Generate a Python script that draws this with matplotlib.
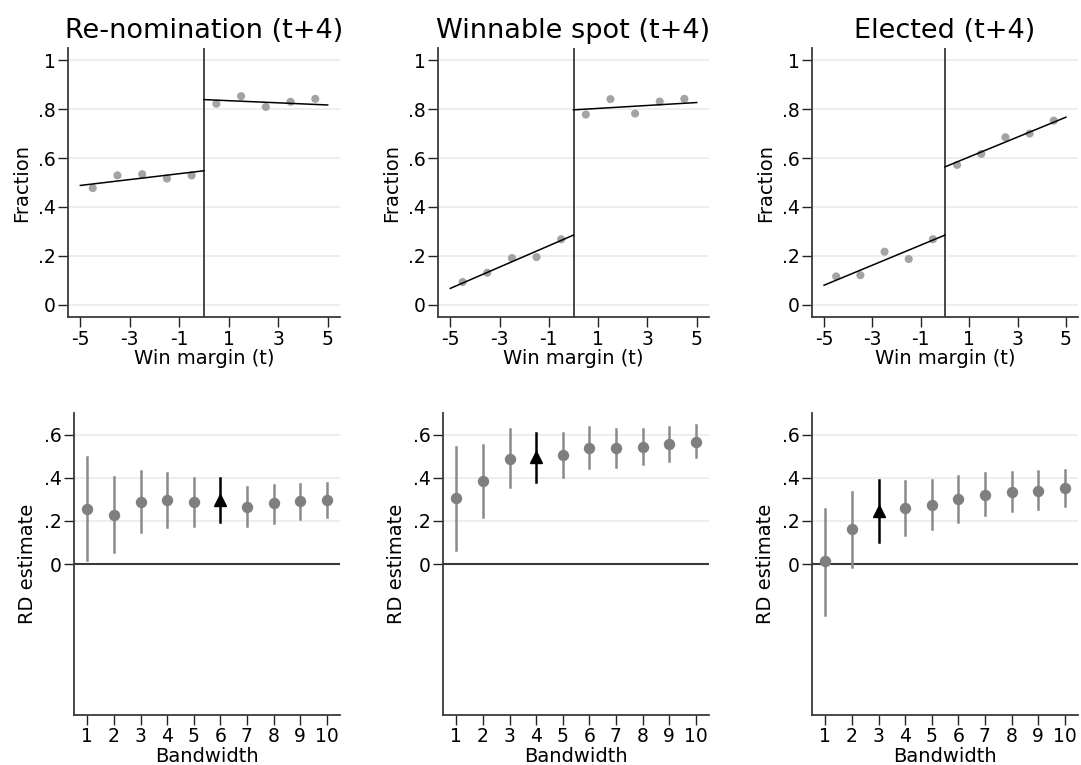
import matplotlib
matplotlib.use("Agg")
import matplotlib.pyplot as plt
import numpy as np

plt.rcParams["axes.unicode_minus"] = False

# --- data ---
titles = ["Re-nomination (t+4)", "Winnable spot (t+4)", "Elected (t+4)"]

bin_x = [-4.5, -3.5, -2.5, -1.5, -0.5, 0.5, 1.5, 2.5, 3.5, 4.5]
bin_means = [
    [0.477, 0.529, 0.534, 0.516, 0.529, 0.822, 0.853, 0.809, 0.830, 0.842],
    [0.093, 0.131, 0.191, 0.195, 0.268, 0.778, 0.841, 0.782, 0.831, 0.842],
    [0.116, 0.121, 0.217, 0.187, 0.268, 0.572, 0.617, 0.685, 0.700, 0.753],
]

fit_left_x = [-5, 0]
fit_right_x = [0, 5]
fit_left = [[0.488, 0.548], [0.067, 0.285], [0.080, 0.285]]
fit_right = [[0.839, 0.817], [0.797, 0.827], [0.564, 0.767]]

bandwidth = [1, 2, 3, 4, 5, 6, 7, 8, 9, 10]
rd_est = [
    [0.257, 0.229, 0.288, 0.296, 0.287, 0.297, 0.266, 0.281, 0.291, 0.297],
    [0.304, 0.384, 0.488, 0.495, 0.507, 0.540, 0.540, 0.544, 0.555, 0.567],
    [0.012, 0.160, 0.245, 0.260, 0.274, 0.302, 0.322, 0.335, 0.340, 0.352],
]
ci_hi = [
    [0.498, 0.405, 0.431, 0.420, 0.397, 0.400, 0.357, 0.366, 0.372, 0.377],
    [0.543, 0.552, 0.625, 0.606, 0.609, 0.637, 0.625, 0.625, 0.634, 0.643],
    [0.257, 0.336, 0.389, 0.384, 0.389, 0.406, 0.423, 0.428, 0.429, 0.437],
]
ci_lo = [
    [0.020, 0.054, 0.147, 0.172, 0.177, 0.194, 0.174, 0.191, 0.207, 0.216],
    [0.065, 0.219, 0.355, 0.378, 0.405, 0.445, 0.451, 0.464, 0.479, 0.495],
    [-0.236, -0.014, 0.102, 0.135, 0.164, 0.197, 0.229, 0.245, 0.254, 0.267],
]
optimal_bw = [6, 4, 3]  # highlighted with a triangle

W, H = 1081, 765
fig = plt.figure(figsize=(W / 100, H / 100), dpi=100)

top_x = [(68, 340), (438, 709), (812, 1078)]
bot_x = [(74, 340), (443, 709), (812, 1078)]


def px_axes(x0, x1, y0, y1):
    return fig.add_axes([x0 / W, 1 - y1 / H, (x1 - x0) / W, (y1 - y0) / H])


def style(ax):
    for s in ["top", "right"]:
        ax.spines[s].set_visible(False)
    for s in ["left", "bottom"]:
        ax.spines[s].set_color("#3a3a3a")
        ax.spines[s].set_linewidth(1.3)
    ax.tick_params(length=7, width=1, color="#222222", labelsize=13.5, pad=2)


for i in range(3):
    # ---- top row: binned scatter + linear fits ----
    ax = px_axes(top_x[i][0], top_x[i][1], 48, 317)
    style(ax)
    for yv in [0, 0.2, 0.4, 0.6, 0.8, 1.0]:
        ax.axhline(yv, color="#ebebeb", lw=1.2, zorder=0)
    ax.axvline(0, color="#3a3a3a", lw=1.3, zorder=2)
    ax.scatter(bin_x, bin_means[i], s=34, color="#a3a3a3", edgecolors="none", zorder=3)
    ax.plot(fit_left_x, fit_left[i], color="black", lw=1.1, zorder=4)
    ax.plot(fit_right_x, fit_right[i], color="black", lw=1.1, zorder=4)
    ax.set_xlim(-5.5, 5.5)
    ax.set_ylim(-0.05, 1.05)
    ax.set_xticks([-5, -3, -1, 1, 3, 5])
    ax.set_yticks([0, 0.2, 0.4, 0.6, 0.8, 1.0])
    ax.set_yticklabels(["0", ".2", ".4", ".6", ".8", "1"])
    ax.set_xlabel("Win margin (t)", fontsize=14, labelpad=0)
    ax.set_ylabel("Fraction", fontsize=14, labelpad=5)
    ax.set_title(titles[i], fontsize=19.5, pad=7)

    # ---- bottom row: RD estimates by bandwidth ----
    ax = px_axes(bot_x[i][0], bot_x[i][1], 413, 715)
    style(ax)
    for yv in [0.2, 0.4, 0.6]:
        ax.axhline(yv, color="#ebebeb", lw=1.2, zorder=0)
    ax.axhline(0, color="#3a3a3a", lw=1.5, zorder=1)
    for j, bw in enumerate(bandwidth):
        if bw == optimal_bw[i]:
            ax.plot([bw, bw], [ci_lo[i][j], ci_hi[i][j]], color="black", lw=1.8, zorder=2)
            ax.plot(bw, rd_est[i][j], marker="^", ms=9, color="black", zorder=3)
        else:
            ax.plot([bw, bw], [ci_lo[i][j], ci_hi[i][j]], color="#8a8a8a", lw=1.8, zorder=2)
            ax.plot(bw, rd_est[i][j], marker="o", ms=8.2, color="#7f7f7f",
                    markeredgewidth=0, zorder=3)
    ax.set_xlim(0.5, 10.5)
    ax.set_ylim(-0.7, 0.7)
    ax.set_xticks(bandwidth)
    ax.set_yticks([0, 0.2, 0.4, 0.6])
    ax.set_yticklabels(["0", ".2", ".4", ".6"])
    ax.set_xlabel("Bandwidth", fontsize=14, labelpad=0)
    ax.set_ylabel("RD estimate", fontsize=14, labelpad=5)

fig.savefig("out.png", dpi=100)
